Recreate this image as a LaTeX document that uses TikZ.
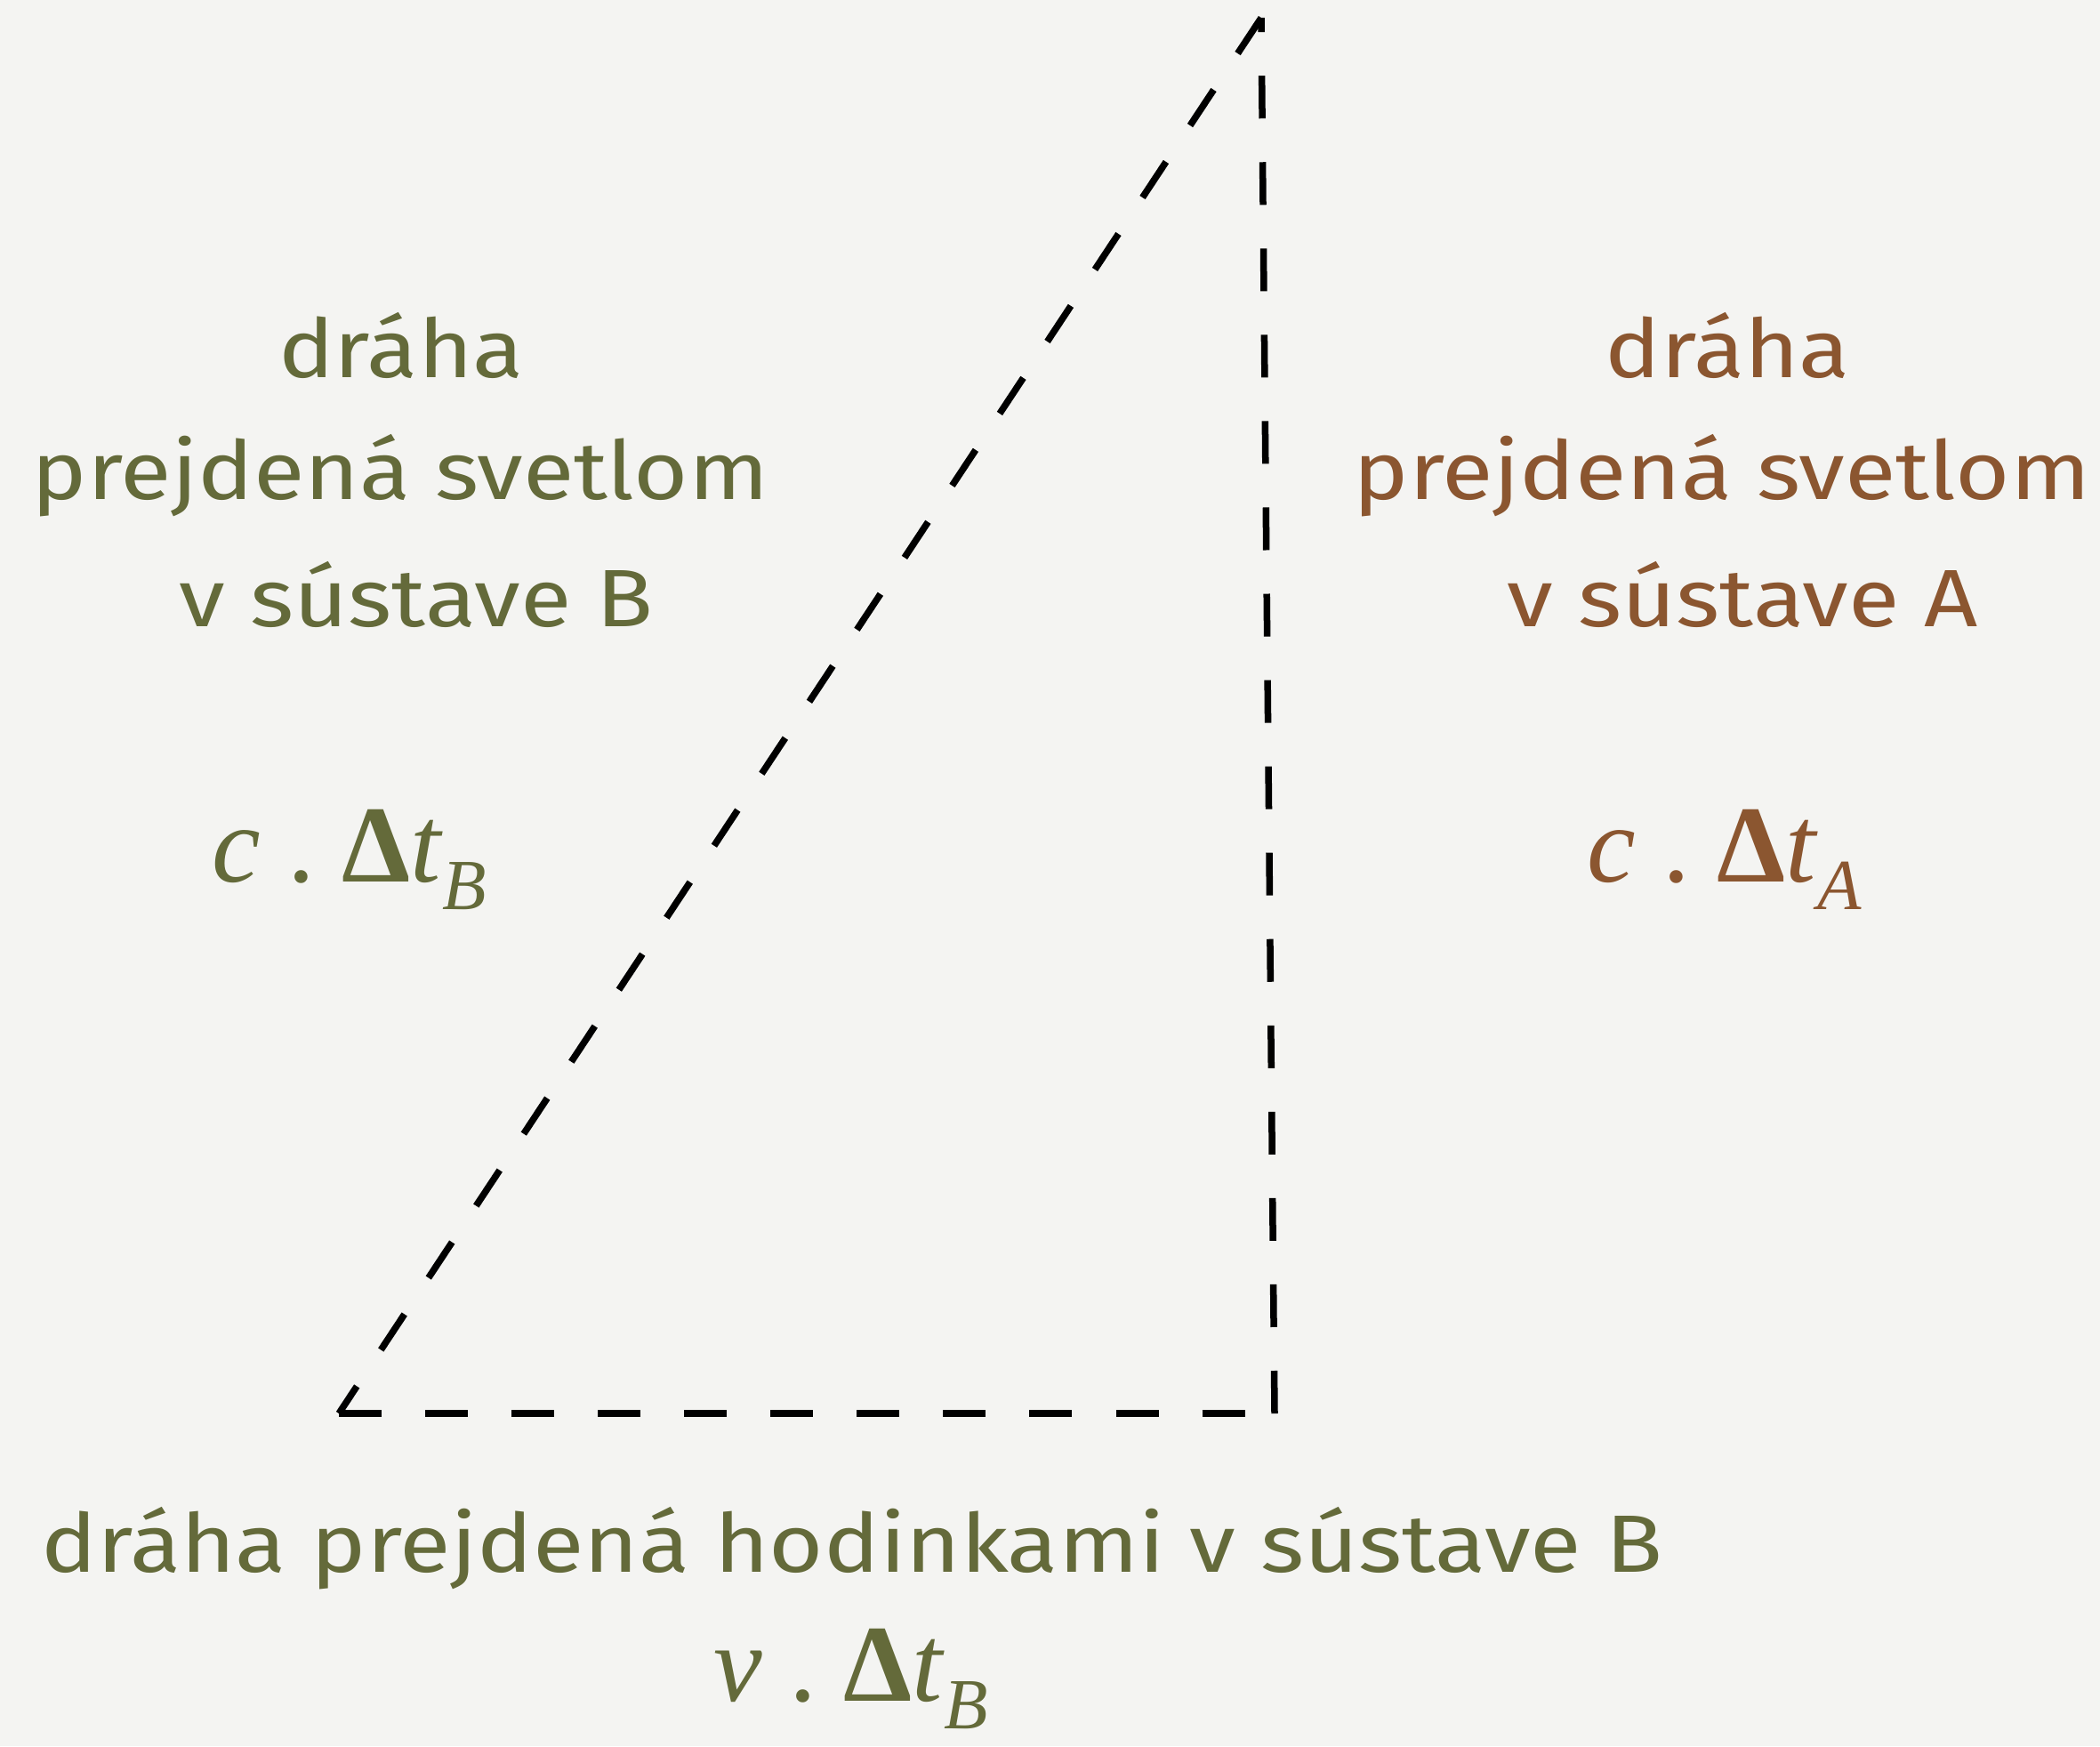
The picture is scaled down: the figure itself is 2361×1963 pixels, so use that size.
\documentclass[tikz,border=0pt]{standalone}
\usepackage{fontspec}
\setmainfont[FakeStretch=1.15]{Fira Sans}
\newfontfamily\tms{Liberation Serif}
\definecolor{grn}{HTML}{646A3A}
\definecolor{brn}{HTML}{8B5630}
\definecolor{bgc}{HTML}{F4F4F2}
\newcommand\dtexpr[2]{\textit{#1}\hspace{0.3cm}.\hspace{0.3cm}\textbf{Δ}\textit{t}\raisebox{-0.31cm}{\fontsize{23}{26}\selectfont\textit{#2}}}
\begin{document}
\begin{tikzpicture}[x=0.01cm,y=-0.01cm,
  lbl/.style={font=\fontsize{26}{31}\selectfont, inner sep=0pt, anchor=base},
  mth/.style={font=\tms\fontsize{35}{40}\selectfont, inner sep=0pt, anchor=base west},
  dline/.style={line width=0.075cm, dash pattern=on 0.48cm off 0.49cm}]
\fill[bgc] (0,0) rectangle (2361,1963);
\useasboundingbox (0,0) rectangle (2361,1963);
\coordinate (A) at (381,1589);
\coordinate (B) at (1433,1589);
\coordinate (T) at (1418,20);
\draw[dline] (T) -- (A);
\draw[dline] (A) -- (B);
\draw[dline] (B) -- (T);
% left block
\node[lbl, text=grn] (l1) at (451,424) {dráha};
\node[lbl, text=grn] (l2) at (450,561) {prejdená svetlom};
\node[lbl, text=grn] (l3) at (468,704) {v sústave B};
\node[mth, text=grn] (lm) at (238,991) {\dtexpr{c}{B}};
% right block
\node[lbl, text=brn] (r1) at (1942,424) {dráha};
\node[lbl, text=brn] (r2) at (1936,561) {prejdená svetlom};
\node[lbl, text=brn] (r3) at (1959,704) {v sústave A};
\node[mth, text=brn] (rm) at (1784,991) {\dtexpr{c}{A}};
% bottom
\node[lbl, text=grn] (b1) at (958,1767) {dráha prejdená hodinkami v sústave B};
\node[mth, text=grn] (bm) at (802,1912) {\dtexpr{v}{B}};
\end{tikzpicture}
\end{document}
